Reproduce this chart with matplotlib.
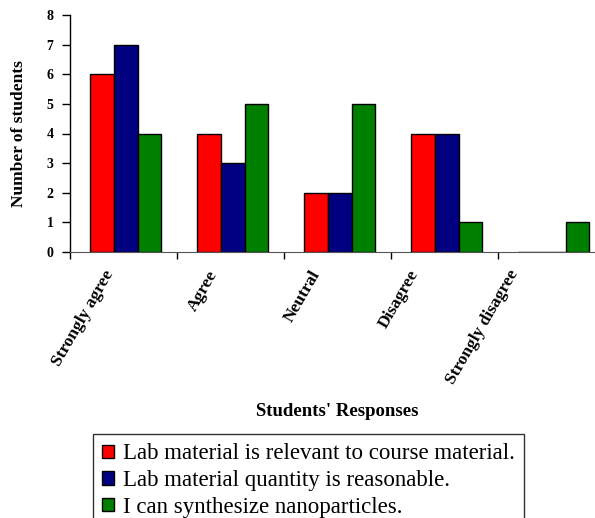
import numpy as np
import matplotlib.pyplot as plt
from matplotlib.transforms import ScaledTranslation

categories = ['Strongly agree', 'Agree', 'Neutral', 'Disagree', 'Strongly disagree']
relevant = [6, 4, 2, 4, 0]
quantity = [7, 3, 2, 4, 0]
synthesize = [4, 5, 5, 1, 1]
series_labels = ['Lab material is relevant to course material.',
                 'Lab material quantity is reasonable.',
                 'I can synthesize nanoparticles.']
colors = ['#ff0000', '#000080', '#008000']

plt.rcParams['font.family'] = ['Liberation Serif', 'DejaVu Serif']

fig = plt.figure(figsize=(5.95, 5.18), dpi=100)
ax = fig.add_axes([70 / 595, 266 / 518, 535 / 595, 237 / 518])

x = np.arange(len(categories))
w = 0.222
handles = []
for i, (vals, c) in enumerate(zip([relevant, quantity, synthesize], colors)):
    b = ax.bar(x + (i - 1) * w + 0.02, vals, width=w, color=c,
               edgecolor='black', linewidth=1)
    handles.append(b)

ax.set_xlim(-0.5, len(categories) - 0.5)
ax.set_ylim(0, 8)
ax.set_yticks(range(9))
ax.set_yticklabels([str(v) for v in range(9)], fontweight='bold', fontsize=10)
ax.tick_params(axis='y', direction='out', length=6, width=1, pad=6)

# category ticks sit between groups, labels at centers
ax.set_xticks(np.arange(-0.5, len(categories) + 0.5, 1.0))
ax.set_xticklabels([])
ax.tick_params(axis='x', direction='out', length=5, width=1, color='black')
ax.set_xticks(x, minor=True)
ax.set_xticklabels(categories, minor=True, rotation=60, ha='right', va='center',
                   rotation_mode='anchor', fontweight='bold', fontsize=12.5)
ax.tick_params(axis='x', which='minor', length=0, pad=14)
# excel-style drift of rotated labels
shifts = [-13, -16, -21, -29, -37]
for lab, dx in zip(ax.get_xticklabels(minor=True), shifts):
    lab.set_transform(lab.get_transform() + ScaledTranslation(dx / 100, 0, fig.dpi_scale_trans))

ax.spines['top'].set_visible(False)
ax.spines['right'].set_visible(False)
ax.spines['bottom'].set_color('#555555')
ax.spines['bottom'].set_zorder(5)
ax.spines['left'].set_linewidth(1)

ax.set_ylabel('Number of students', fontweight='bold', fontsize=12.5, labelpad=14)
fig.text(337 / 595, 1 - 412 / 518, "Students' Responses", ha='center', va='center',
         fontweight='bold', fontsize=13.5)

leg = fig.legend(handles, series_labels, loc='upper left',
                 bbox_to_anchor=(93 / 595, 1 - 434 / 518), fontsize=16.5,
                 frameon=True, fancybox=False, edgecolor='black',
                 handlelength=0.5, handleheight=0.5, handletextpad=0.4,
                 borderpad=0.4, labelspacing=0.26, borderaxespad=0)
leg.get_frame().set_linewidth(1)

fig.savefig('out.png', dpi=100)
